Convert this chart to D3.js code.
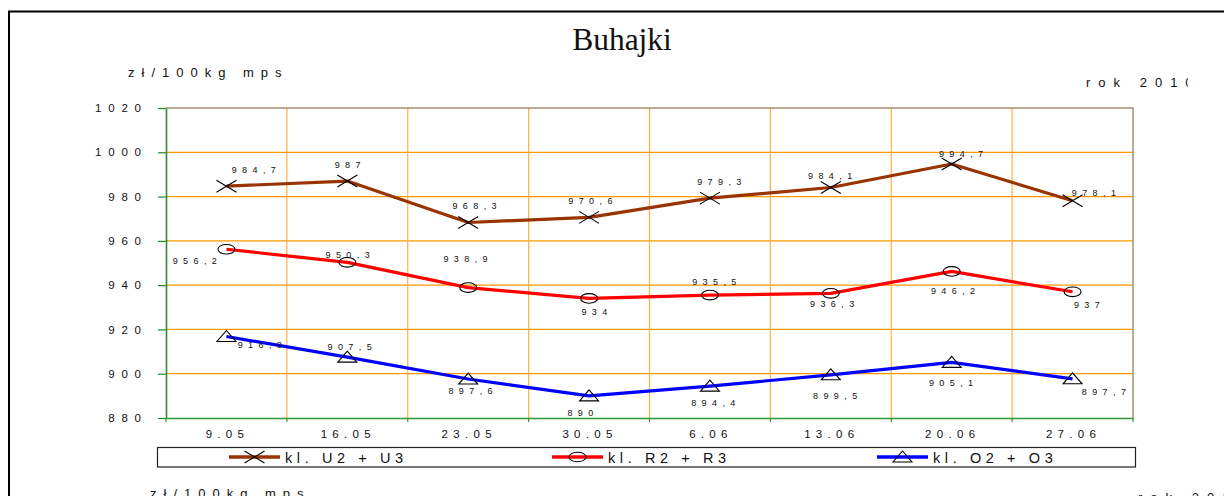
<!DOCTYPE html>
<html>
<head>
<meta charset="utf-8">
<script src="https://cdn.jsdelivr.net/npm/d3@7"></script>
<style>
  body { margin: 0; background: #fff; }
  svg { display: block; }
  text { font-family: Arial, "Liberation Sans", sans-serif; fill: #111; }
</style>
</head>
<body>
<svg id="chart" width="1224" height="496"></svg>
<script>
var categories = ["9.05", "16.05", "23.05", "30.05", "6.06", "13.06", "20.06", "27.06"];
var yTicks = [880, 900, 920, 940, 960, 980, 1000, 1020];

var seriesNames = ["kl. U2 + U3", "kl. R2 + R3", "kl. O2 + O3"];
var valuesU = [984.7, 987, 968.3, 970.6, 979.3, 984.1, 994.7, 978.1];
var valuesR = [956.2, 950.3, 938.9, 934, 935.5, 936.3, 946.2, 937];
var valuesO = [916.8, 907.5, 897.6, 890, 894.4, 899.5, 905.1, 897.7];

// label nudges (px from the point)
var nudgeU = [[27,-16],[0,-16],[6,-16],[1,-16],[9,-16],[-1,-11],[9,-10],[21,-8]];
var nudgeR = [[-32,12],[0,-7],[-3,-29],[5,14],[4,-13],[1,11],[1,20],[14,13]];
var nudgeO = [[33,8],[2,-10],[2,12],[-9,17],[3,17],[4,21],[-1,21],[31,13]];

var series = [
  {name: seriesNames[0], values: valuesU, nudge: nudgeU, color: "#993300", marker: "x"},
  {name: seriesNames[1], values: valuesR, nudge: nudgeR, color: "#ff0000", marker: "o"},
  {name: seriesNames[2], values: valuesO, nudge: nudgeO, color: "#0000ff", marker: "tri"}
];

var svg = d3.select("#chart");

var plotLeft = 166, plotRight = 1133, plotTop = 108, plotBottom = 418;

var x = d3.scaleBand().domain(categories).range([plotLeft, plotRight]).padding(0);
var y = d3.scaleLinear().domain([880, 1020]).range([plotBottom, plotTop]);

function fmt(v) { return String(v).replace(".", ","); }

// outer frame (runs off the picture)
svg.append("rect")
  .attr("x", 9).attr("y", 11.5)
  .attr("width", 1400).attr("height", 700)
  .attr("fill", "none").attr("stroke", "#000").attr("stroke-width", 2);

// title and unit texts
svg.append("text")
  .attr("x", 622).attr("y", 50)
  .attr("text-anchor", "middle")
  .style("font-family", "'Liberation Serif', 'Times New Roman', serif")
  .style("font-size", "31.5px")
  .text("Buhajki");

svg.append("text")
  .attr("x", 128).attr("y", 77)
  .style("font-size", "13px").style("letter-spacing", "7px")
  .text("zł/100kg mps");

svg.append("clipPath").attr("id", "rokclip")
  .append("rect").attr("x", 0).attr("y", 0).attr("width", 1188).attr("height", 496);

svg.append("text")
  .attr("x", 1086).attr("y", 87)
  .attr("clip-path", "url(#rokclip)")
  .style("font-size", "13px").style("letter-spacing", "8px")
  .text("rok 2010");

// bits of the next chart below
svg.append("text")
  .attr("x", 150).attr("y", 498)
  .style("font-size", "13px").style("letter-spacing", "7px")
  .text("zł/100kg mps");
svg.append("text")
  .attr("x", 1138).attr("y", 502)
  .style("font-size", "13px").style("letter-spacing", "8px")
  .text("rok 2010");

var chart = svg.append("g");

// horizontal grid
chart.selectAll(".hgrid")
  .data(yTicks.filter(function(d) { return d > 880 && d < 1020; }))
  .enter().append("line")
  .attr("x1", plotLeft).attr("x2", plotRight)
  .attr("y1", function(d) { return y(d); })
  .attr("y2", function(d) { return y(d); })
  .attr("stroke", "#ff9900").attr("stroke-width", 1.2);

// vertical grid at category boundaries
var bounds = categories.map(function(c) { return x(c); }).concat([plotRight]);
chart.selectAll(".vgrid")
  .data(bounds.slice(1, -1))
  .enter().append("line")
  .attr("x1", function(d) { return d; }).attr("x2", function(d) { return d; })
  .attr("y1", plotTop).attr("y2", plotBottom)
  .attr("stroke", "#ffb040").attr("stroke-width", 1.2);

// plot area top/right border
chart.append("path")
  .attr("d", "M" + plotLeft + "," + plotTop + "H" + plotRight + "V" + plotBottom)
  .attr("fill", "none").attr("stroke", "#a89070").attr("stroke-width", 1.5);

// Y-axis
var yAxis = chart.append("g")
  .attr("transform", "translate(" + plotLeft + ",0)")
  .call(d3.axisLeft(y).tickValues(yTicks).tickFormat(d3.format("d"))
    .tickSize(8).tickPadding(17).tickSizeOuter(0));
yAxis.select(".domain").attr("stroke", "#2e8b2e").attr("stroke-width", 1.6);
yAxis.selectAll(".tick line").attr("stroke", "#1a8f1a").attr("stroke-width", 1.2);
yAxis.selectAll(".tick text")
  .style("font-size", "11.5px").style("letter-spacing", "6.8px")
  .style("font-family", "Arial, 'Liberation Sans', sans-serif")
  .attr("fill", "#111")
  .attr("dx", "6.8px");

// X-axis
var xAxis = chart.append("g")
  .attr("transform", "translate(0," + plotBottom + ")")
  .call(d3.axisBottom(x).tickSize(0).tickPadding(12).tickSizeOuter(0));
xAxis.select(".domain").attr("stroke", "#339933").attr("stroke-width", 1.5);
xAxis.selectAll(".tick text")
  .style("font-size", "11.5px").style("letter-spacing", "5.3px")
  .style("font-family", "Arial, 'Liberation Sans', sans-serif")
  .attr("fill", "#111")
  .attr("dx", "1px");
chart.selectAll(".xtick")
  .data(bounds)
  .enter().append("line")
  .attr("x1", function(d) { return d; }).attr("x2", function(d) { return d; })
  .attr("y1", plotBottom).attr("y2", plotBottom + 4)
  .attr("stroke", "#339933").attr("stroke-width", 1.2);

// markers
function drawMarker(g, type) {
  if (type === "x") {
    g.append("path").attr("d", "M-10,-6L10,6M-10,6L10,-6")
      .attr("stroke", "#000").attr("stroke-width", 1.1).attr("fill", "none");
  } else if (type === "o") {
    g.append("ellipse").attr("rx", 8.5).attr("ry", 4.8)
      .attr("stroke", "#000").attr("stroke-width", 1.1).attr("fill", "none");
  } else {
    g.append("path").attr("d", "M0,-6L9.5,5H-9.5Z")
      .attr("stroke", "#000").attr("stroke-width", 1.1).attr("fill", "none");
  }
}

var line = d3.line()
  .x(function(d, i) { return x(categories[i]) + x.bandwidth() / 2; })
  .y(function(d) { return y(d); });

series.forEach(function(s) {
  chart.append("path")
    .datum(s.values)
    .attr("fill", "none")
    .attr("stroke", s.color)
    .attr("stroke-width", 3.2)
    .attr("stroke-linejoin", "round")
    .attr("d", line);

  s.values.forEach(function(v, i) {
    var px = x(categories[i]) + x.bandwidth() / 2, py = y(v);
    drawMarker(chart.append("g").attr("transform", "translate(" + px + "," + py + ")"), s.marker);
    chart.append("text")
      .attr("x", px + s.nudge[i][0] + 3)
      .attr("y", py + s.nudge[i][1])
      .attr("text-anchor", "middle")
      .attr("dominant-baseline", "central")
      .style("font-size", "9px").style("letter-spacing", "5.4px")
      .text(fmt(v));
  });
});

// legend
var legend = svg.append("g");
legend.append("rect")
  .attr("x", 157.5).attr("y", 447.5).attr("width", 978).attr("height", 19.5)
  .attr("fill", "#fff").attr("stroke", "#222").attr("stroke-width", 1.2);

var legendX = [229, 552, 877];
series.forEach(function(s, i) {
  var lx = legendX[i], ly = 457;
  legend.append("line")
    .attr("x1", lx).attr("x2", lx + 51)
    .attr("y1", ly).attr("y2", ly)
    .attr("stroke", s.color).attr("stroke-width", 3.5);
  drawMarker(legend.append("g").attr("transform", "translate(" + (lx + 25.5) + "," + ly + ")"), s.marker);
  legend.append("text")
    .attr("x", lx + 56).attr("y", ly + 5.5)
    .style("font-size", "14.5px").style("letter-spacing", "4.6px")
    .text(s.name);
});
</script>
</body>
</html>
